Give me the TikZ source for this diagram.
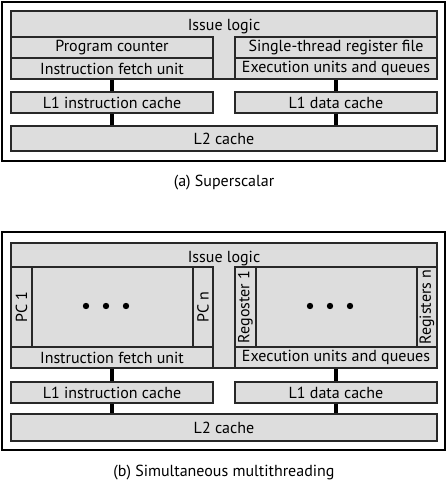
\documentclass[tikz,border=0pt]{standalone}
\usepackage{fontspec}
\setmainfont{PT Sans}
\usepackage{xcolor}
\usepackage{tikz}
\definecolor{boxgray}{RGB}{221, 221, 221}
\definecolor{edgegray}{RGB}{40, 40, 40}
\usetikzlibrary{positioning,calc}

\begin{document}
\begin{tikzpicture}[
    x=0.75pt, y=-0.75pt,
    unit/.style={
        rectangle,
        draw=edgegray,
        line width=0.8pt,
        fill=boxgray,
        inner sep=0pt,
        font=\fontsize{12}{14}\selectfont
    },
    frame/.style={
        rectangle,
        draw=black,
        line width=1.8pt,
        inner sep=0pt
    },
    bus/.style={line width=2.8pt, black},
    caption/.style={font=\fontsize{12}{14}\selectfont}
]
    \useasboundingbox (0,0) rectangle (448,494);

    % (a) Superscalar
    \node[frame, minimum width=443*0.75pt, minimum height=159*0.75pt] (frameA) at (223.5,81.5) {};
    \node[unit, minimum width=426*0.75pt, minimum height=68*0.75pt,
        label={[anchor=north, inner sep=0pt, yshift=-6pt, font=\fontsize{12}{14}\selectfont]north:Issue logic}] (issueA) at (224,45) {};
    \node[unit, minimum width=202*0.75pt, minimum height=21*0.75pt] (pcA) at (112,47.5) {Program counter};
    \node[unit, minimum width=202*0.75pt, minimum height=21*0.75pt] (ifuA) at (112,68.5) {Instruction fetch unit};
    \node[unit, minimum width=202*0.75pt, minimum height=21*0.75pt] (regA) at (336,47.5) {Single-thread register file};
    \node[unit, minimum width=202*0.75pt, minimum height=21*0.75pt] (euA) at (336,68.5) {Execution units and queues};
    \node[unit, minimum width=202*0.75pt, minimum height=21*0.75pt] (l1iA) at (112,102.5) {L1 instruction cache};
    \node[unit, minimum width=202*0.75pt, minimum height=21*0.75pt] (l1dA) at (336,102.5) {L1 data cache};
    \node[unit, minimum width=426*0.75pt, minimum height=25*0.75pt] (l2A) at (224,138.5) {L2 cache};
    \draw[bus] (ifuA) -- (l1iA);
    \draw[bus] (euA) -- (l1dA);
    \draw[bus] (l1iA.south) -- (l1iA.south |- l2A.north);
    \draw[bus] (l1dA.south) -- (l1dA.south |- l2A.north);
    \node[caption] (capA) at (224,183) {(a) Superscalar};

    % (b) Simultaneous multithreading
    \node[frame, minimum width=443*0.75pt, minimum height=218*0.75pt] (frameB) at (223.5,341) {};
    \node[unit, minimum width=426*0.75pt, minimum height=125*0.75pt,
        label={[anchor=north, inner sep=0pt, yshift=-6pt, font=\fontsize{12}{14}\selectfont]north:Issue logic}] (issueB) at (224,305.5) {};
    \node[unit, minimum width=202*0.75pt, minimum height=80*0.75pt] (pcsB) at (112,307) {};
    \node[unit, minimum width=21*0.75pt, minimum height=80*0.75pt] (pconeB) at (21.5,307) {\rotatebox{90}{PC 1}};
    \node[unit, minimum width=20*0.75pt, minimum height=80*0.75pt] (pcnB) at (203,307) {\rotatebox{90}{PC n}};
    \node[unit, minimum width=202*0.75pt, minimum height=80*0.75pt] (regsB) at (336,307) {};
    \node[unit, minimum width=21*0.75pt, minimum height=80*0.75pt] (regoneB) at (245.5,307) {\rotatebox{90}{Regoster 1}};
    \node[unit, minimum width=20*0.75pt, minimum height=80*0.75pt] (regnB) at (427,307) {\rotatebox{90}{Registers n}};
    \foreach \dx in {-20,0,20} {
        \fill ($(pcsB.center)+(\dx-6,-1)$) circle (3.2*0.75pt);
        \fill ($(regsB.center)+(\dx-6,-1)$) circle (3.2*0.75pt);
    }
    \node[unit, minimum width=202*0.75pt, minimum height=21*0.75pt] (ifuB) at (112,357.5) {Instruction fetch unit};
    \node[unit, minimum width=202*0.75pt, minimum height=21*0.75pt] (euB) at (336,357.5) {Execution units and queues};
    \node[unit, minimum width=202*0.75pt, minimum height=21*0.75pt] (l1iB) at (112,392.5) {L1 instruction cache};
    \node[unit, minimum width=202*0.75pt, minimum height=21*0.75pt] (l1dB) at (336,392.5) {L1 data cache};
    \node[unit, minimum width=426*0.75pt, minimum height=27*0.75pt] (l2B) at (224,427.5) {L2 cache};
    \draw[bus] (ifuB) -- (l1iB);
    \draw[bus] (euB) -- (l1dB);
    \draw[bus] (l1iB.south) -- (l1iB.south |- l2B.north);
    \draw[bus] (l1dB.south) -- (l1dB.south |- l2B.north);
    \node[caption] (capB) at (224,473) {(b) Simultaneous multithreading};
\end{tikzpicture}
\end{document}
